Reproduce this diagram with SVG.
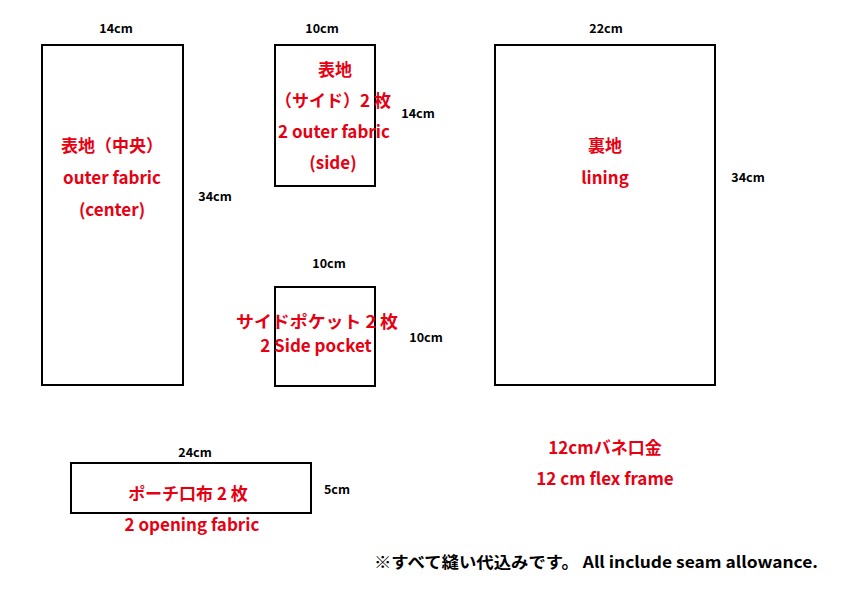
<svg xmlns="http://www.w3.org/2000/svg" width="842" height="595" viewBox="0 0 842 595">
<style>
.box{fill:#fff;stroke:#000;stroke-width:2}
.dim{font-family:"Noto Sans CJK JP","Liberation Sans",sans-serif;font-weight:bold;font-size:12.5px;fill:#000;text-anchor:middle}
.lab{font-family:"Noto Sans CJK JP","Liberation Sans",sans-serif;font-weight:bold;font-size:17px;fill:#e60012;text-anchor:middle}
.note{font-family:"Noto Sans CJK JP","Liberation Sans",sans-serif;font-weight:bold;font-size:16px;fill:#000}
</style>
<rect width="842" height="595" fill="#fff"/>
<g id="outer-center">
<rect class="box" x="42" y="45" width="141" height="340"/>
<text class="dim" x="116" y="33">14cm</text>
<text class="dim" x="215" y="201">34cm</text>
<text class="lab" x="112" y="152">表地（中央）</text>
<text class="lab" x="112" y="184">outer fabric</text>
<text class="lab" x="112" y="216">(center)</text>
</g>
<g id="outer-side">
<rect class="box" x="275" y="45" width="100" height="141"/>
<text class="dim" x="322" y="33">10cm</text>
<text class="dim" x="418" y="118">14cm</text>
<text class="lab" x="335" y="76">表地</text>
<text class="lab" x="333" y="107">（サイド）2 枚</text>
<text class="lab" x="334" y="138">2 outer fabric</text>
<text class="lab" x="333" y="169">(side)</text>
</g>
<g id="side-pocket">
<rect class="box" x="275" y="287" width="100" height="99"/>
<text class="dim" x="329" y="268">10cm</text>
<text class="dim" x="426" y="342">10cm</text>
<text class="lab" x="317" y="328" textLength="162" lengthAdjust="spacingAndGlyphs">サイドポケット 2 枚</text>
<text class="lab" x="316" y="352">2 Side pocket</text>
</g>
<g id="lining">
<rect class="box" x="495" y="45" width="220" height="340"/>
<text class="dim" x="606" y="33">22cm</text>
<text class="dim" x="748" y="182">34cm</text>
<text class="lab" x="605" y="152">裏地</text>
<text class="lab" x="605" y="184">lining</text>
</g>
<g id="opening-fabric">
<rect class="box" x="71" y="463" width="240" height="50"/>
<text class="dim" x="195" y="457">24cm</text>
<text class="dim" x="337" y="494">5cm</text>
<text class="lab" x="188" y="500">ポーチ口布 2 枚</text>
<text class="lab" x="192" y="531">2 opening fabric</text>
</g>
<g id="frame">
<text class="lab" x="605" y="454">12cmバネ口金</text>
<text class="lab" x="605" y="485">12 cm flex frame</text>
</g>
<g id="connectors"></g>
<text class="note" x="374" y="568" textLength="444" lengthAdjust="spacingAndGlyphs">※すべて縫い代込みです。 All include seam allowance.</text>
</svg>
